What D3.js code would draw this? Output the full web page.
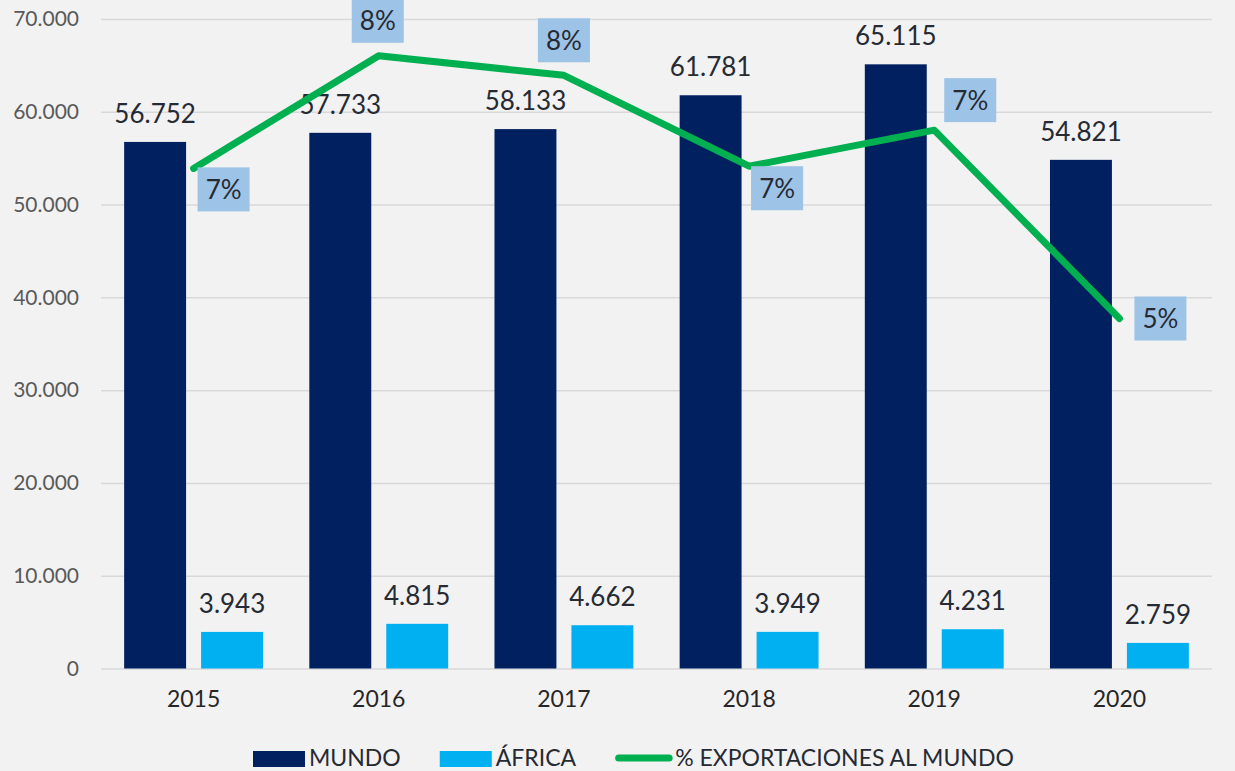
<!DOCTYPE html>
<html>
<head>
<meta charset="utf-8">
<script src="https://cdn.jsdelivr.net/npm/d3@7"></script>
<style>
  html, body { margin: 0; padding: 0; background: #f2f2f2; }
  svg { display: block; font-family: Lato, "Open Sans", sans-serif; }
</style>
</head>
<body>
<div id="chart"></div>
<script>
// data
const years = ["2015", "2016", "2017", "2018", "2019", "2020"];
const mundo = [56752, 57733, 58133, 61781, 65115, 54821];
const africa = [3943, 4815, 4662, 3949, 4231, 2759];
const pctExport = [0.0693, 0.0849, 0.0822, 0.0696, 0.0746, 0.0485];
const yTicks = [0, 10000, 20000, 30000, 40000, 50000, 60000, 70000];
const seriesNames = ["MUNDO", "ÁFRICA"];

// layout for the % boxes (offset of box centre from point)
const pctOffsets = [[30, 21], [-1, -35], [0, -35], [28, 22], [36, -30], [41, 0]];

const width = 1235, height = 771;
const margin = {top: 19, right: 23, bottom: 102.5, left: 101};
const colors = {MUNDO: "#002060", "ÁFRICA": "#00b0f0"};

const svg = d3.select("#chart").append("svg")
    .attr("width", width)
    .attr("height", height);

svg.append("rect").attr("width", width).attr("height", height).attr("fill", "#f2f2f2");

// scales
const x0 = d3.scaleBand()
    .domain(years)
    .range([margin.left, width - margin.right])
    .paddingInner(0.25)
    .paddingOuter(0.125);

const x1 = d3.scaleBand()
    .domain(seriesNames)
    .range([0, x0.bandwidth()])
    .paddingInner(0.195);

const y = d3.scaleLinear()
    .domain([0, 70000])
    .range([height - margin.bottom, margin.top]);

const y2 = d3.scaleLinear()
    .domain([0, 0.09])
    .range([height - margin.bottom, margin.top]);

const fmt = d3.formatLocale({decimal: ",", thousands: ".", grouping: [3], currency: ["", ""]}).format(",.0f");

// gridlines + y labels
const yAxis = svg.append("g")
    .attr("transform", `translate(${margin.left},0)`)
    .call(d3.axisLeft(y).tickValues(yTicks).tickFormat(fmt)
        .tickSize(-(width - margin.left - margin.right)).tickPadding(22));
yAxis.select(".domain").remove();
yAxis.selectAll(".tick line").attr("stroke", "#d9d9d9").attr("stroke-width", 1.5);
yAxis.selectAll(".tick text")
    .attr("fill", "#595959")
    .style("font-size", "21px")
    .style("font-family", "Lato, sans-serif");

// x labels
const xAxis = svg.append("g")
    .attr("transform", `translate(0,${height - margin.bottom})`)
    .call(d3.axisBottom(x0).tickSize(0).tickPadding(22));
xAxis.select(".domain").remove();
xAxis.selectAll(".tick text")
    .attr("fill", "#262626")
    .style("font-size", "23px")
    .style("font-family", "Lato, sans-serif");

// bars
const rows = years.map((yr, i) => ({year: yr, vals: [
    {key: "MUNDO", value: mundo[i]},
    {key: "ÁFRICA", value: africa[i]}
]}));

const groups = svg.selectAll("g.year")
    .data(rows)
    .enter().append("g")
    .attr("class", "year")
    .attr("transform", d => `translate(${x0(d.year)},0)`);

groups.selectAll("rect")
    .data(d => d.vals)
    .enter().append("rect")
    .attr("x", d => x1(d.key))
    .attr("y", d => y(d.value))
    .attr("width", x1.bandwidth())
    .attr("height", d => y(0) - y(d.value))
    .attr("fill", d => colors[d.key]);

groups.selectAll("text.val")
    .data(d => d.vals)
    .enter().append("text")
    .attr("class", "val")
    .attr("x", d => x1(d.key) + x1.bandwidth() / 2)
    .attr("y", d => y(d.value) - 19)
    .attr("text-anchor", "middle")
    .attr("fill", "#262a33")
    .style("font-size", "26px")
    .text(d => fmt(d.value));

// line
const cx = yr => x0(yr) + x0.bandwidth() / 2;
const line = d3.line()
    .x((d, i) => cx(years[i]))
    .y(d => y2(d));

svg.append("path")
    .datum(pctExport)
    .attr("d", line)
    .attr("fill", "none")
    .attr("stroke", "#00b050")
    .attr("stroke-width", 7)
    .attr("stroke-linecap", "round")
    .attr("stroke-linejoin", "round");

// % labels
const pctG = svg.selectAll("g.pct")
    .data(pctExport)
    .enter().append("g")
    .attr("class", "pct")
    .attr("transform", (d, i) => `translate(${cx(years[i]) + pctOffsets[i][0]},${y2(d) + pctOffsets[i][1]})`);

pctG.append("rect")
    .attr("x", -26).attr("y", -22)
    .attr("width", 52).attr("height", 44)
    .attr("fill", "#9dc3e6");

pctG.append("text")
    .attr("text-anchor", "middle")
    .attr("dy", "0.36em")
    .attr("fill", "#262a33")
    .style("font-size", "26px")
    .text(d => d3.format(".0%")(d));

// legend along the bottom edge
const legend = svg.append("g").attr("transform", "translate(253,0)");
let lx = 0;
const legendItems = [
    {name: "MUNDO", type: "rect", color: colors.MUNDO},
    {name: "ÁFRICA", type: "rect", color: colors["ÁFRICA"]},
    {name: "% EXPORTACIONES AL MUNDO", type: "line", color: "#00b050"}
];
legendItems.forEach(item => {
    if (item.type === "rect") {
        legend.append("rect")
            .attr("x", lx).attr("y", 751)
            .attr("width", 52).attr("height", 16)
            .attr("fill", item.color);
        lx += 56;
    } else {
        legend.append("line")
            .attr("x1", lx + 3.5).attr("x2", lx + 54)
            .attr("y1", 758).attr("y2", 758)
            .attr("stroke", item.color)
            .attr("stroke-width", 7)
            .attr("stroke-linecap", "round");
        lx += 60;
    }
    const t = legend.append("text")
        .attr("x", lx).attr("y", 766)
        .attr("fill", "#262a33")
        .style("font-size", "23px")
        .text(item.name);
    lx += t.node().getComputedTextLength() + 39;
});
</script>
</body>
</html>
